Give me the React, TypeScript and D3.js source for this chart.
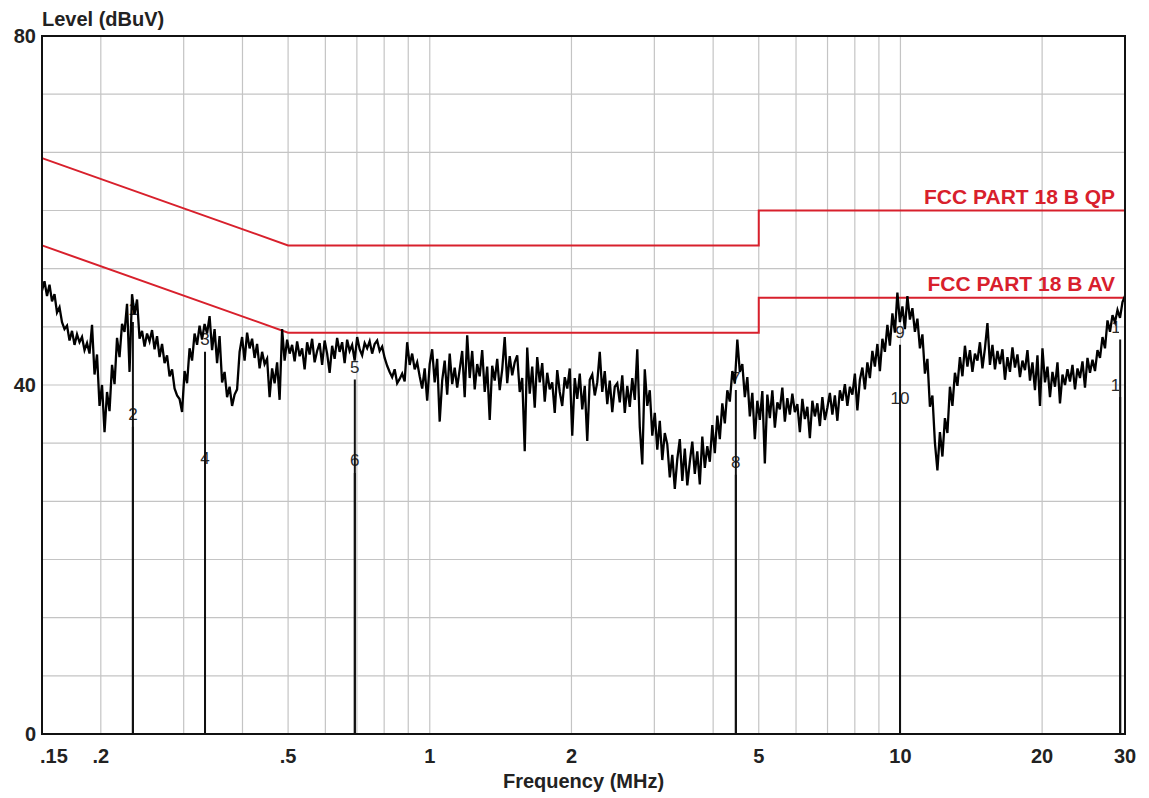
import * as d3 from "d3";

const W = 1149;
const H = 798;
const margin = { top: 36, right: 24, bottom: 64, left: 42 };

const fStart = 0.15;
const fStop = 30;

const freqTicks = [0.15, 0.2, 0.5, 1, 2, 5, 10, 20, 30];
const freqTickLabels = [".15", ".2", ".5", "1", "2", "5", "10", "20", "30"];
const freqGrid = [0.2, 0.3, 0.4, 0.5, 0.6, 0.7, 0.8, 0.9, 1, 2, 3, 4, 5, 6, 7, 8, 9, 10, 20];
const levelTicks = [0, 40, 80];
const levelDivisions = 12;

const limitFreqs = [0.15, 0.5, 5, 5, 30];
const qpLimit = [66, 56, 56, 60, 60];
const avLimit = [56, 46, 46, 50, 50];
const limitNames = ["FCC PART 18 B QP", "FCC PART 18 B AV"];

const markerLabels = ["1", "2", "3", "4", "5", "6", "7", "8", "9", "10", "11", "12"];
const markerFreqs = [0.234, 0.234, 0.333, 0.333, 0.693, 0.693, 4.47, 4.47, 9.98, 9.98, 29.3, 29.3];
const markerLevels = [48.6, 36.6, 45.2, 31.6, 42.0, 31.3, 40.8, 31.1, 46.0, 38.5, 46.6, 40.0];

// measured level, sweep points log-spaced from 0.15 to 30 MHz
const traceLevels = [
  50.8, 51.9, 50.2, 51.5, 49.6, 50.4, 48.3, 48.9, 47.2, 46.4,
  46.8, 45.1, 46.2, 44.6, 45.8, 44.9, 45.5, 44.0, 44.8, 43.6,
  46.9, 41.2, 43.5, 37.6, 40.0, 34.6, 39.2, 37.0, 42.3, 40.1,
  45.4, 43.2, 47.0, 46.1, 49.3, 41.5, 50.4, 48.1, 49.8, 45.3,
  46.2, 44.4, 45.9, 45.0, 46.3, 44.1, 45.6, 43.2, 44.7, 42.5,
  43.4, 41.0, 41.8, 39.6, 38.8, 38.4, 36.9, 41.6, 40.2, 44.2,
  42.8, 45.9, 44.6, 46.8, 45.2, 47.0, 45.9, 47.9, 44.0, 46.4,
  42.5, 45.6, 40.3, 41.5, 38.6, 39.8, 37.6, 38.9, 39.5, 43.8,
  45.5, 42.8, 46.0, 44.2, 45.3, 43.1, 44.7, 41.9, 43.8, 42.4,
  43.0, 38.6, 41.9, 40.2, 42.6, 38.3, 46.4, 42.8, 45.2, 43.6,
  44.6, 42.7, 45.0, 43.3, 44.2, 41.8, 44.9, 43.5, 45.3, 42.6,
  43.9, 44.8, 42.3, 45.1, 43.6, 41.4, 44.5, 43.0, 45.4, 43.8,
  44.9, 42.5, 45.2, 43.9, 44.6, 42.8, 45.5, 44.1, 43.4, 44.8,
  44.2, 45.0, 43.6, 44.7, 45.1, 43.9, 44.4, 43.1, 42.2, 41.5,
  40.9, 41.8, 40.2, 40.7, 41.3, 40.4, 44.9, 42.3, 43.6, 41.8,
  42.6, 41.0, 39.6, 41.9, 38.2, 42.4, 44.1, 40.3, 43.0, 35.8,
  40.5, 42.8, 38.9, 43.6, 40.1, 42.0, 39.7, 41.8, 43.9, 38.6,
  45.7, 40.8, 43.9, 39.5, 42.4, 41.0, 44.0, 39.2, 42.1, 36.0,
  42.2, 40.5, 43.0, 39.4, 41.8, 45.5, 40.2, 43.3, 41.1, 42.6,
  43.4, 39.2, 40.8, 32.4, 44.3, 39.0, 42.1, 37.4, 43.2, 40.3,
  42.5, 38.1, 41.4, 39.5, 40.3, 36.8, 41.7, 39.2, 37.6, 40.9,
  39.6, 41.9, 34.2, 40.8, 38.4, 41.3, 37.2, 39.9, 33.6, 40.6,
  41.2, 38.8, 40.3, 43.8, 39.2, 41.6, 37.8, 40.5, 36.9, 39.8,
  40.2, 38.0, 41.1, 36.8, 39.9, 37.5, 40.8, 38.3, 44.1, 35.2,
  30.9, 41.8, 37.6, 39.4, 34.2, 36.8, 32.6, 35.9, 31.4, 34.5,
  33.2, 29.4, 32.0, 28.1, 31.5, 33.8, 29.0, 32.7, 28.5, 31.2,
  33.5, 29.8, 32.4, 28.6, 34.1, 30.5, 33.0, 31.2, 35.4, 32.2,
  36.5, 33.8, 37.9, 35.6, 39.4, 38.1, 41.6, 40.2, 45.2, 41.5,
  42.4, 38.6, 40.9, 36.4, 39.1, 33.8, 38.2, 36.0, 39.3, 31.0,
  38.9, 36.2, 39.4, 35.1, 38.0, 37.2, 39.7, 35.8, 38.5, 36.6,
  39.0, 36.9, 37.8, 34.6, 38.4, 36.1, 37.5, 33.9, 38.2, 36.4,
  37.9, 35.3, 38.6, 36.0, 37.4, 39.1, 36.6, 38.8, 35.9, 39.4,
  38.2, 40.1, 37.6, 39.8, 38.9, 41.3, 37.1, 40.6, 42.0, 39.5,
  42.6, 40.8, 43.9, 42.1, 44.7, 41.6, 45.3, 43.8, 46.9, 44.5,
  48.2, 46.0, 50.6, 47.2, 49.0, 46.4, 50.2, 47.5, 48.8, 46.1,
  47.6, 44.2, 45.8, 41.3, 43.0, 37.5, 38.8, 33.4, 30.2, 34.6,
  31.8, 36.2, 34.5, 39.8, 37.6, 41.4, 39.9, 43.2, 41.0, 44.5,
  42.1, 44.0, 41.5, 43.6, 42.8, 44.9, 41.9, 44.2, 47.1, 42.3,
  44.6, 41.8, 43.9, 42.4, 44.1, 40.6, 43.2, 41.5, 44.3, 42.0,
  43.5, 40.9, 42.8, 41.7, 44.0, 40.5, 42.6, 39.4, 43.4, 37.6,
  44.2, 40.3, 42.1, 38.6, 41.5, 39.8, 42.6, 37.9, 41.2, 40.0,
  41.8, 40.4, 42.3, 39.5, 41.9, 40.8, 42.7, 39.7, 43.1, 41.4,
  42.9, 41.6, 44.0, 43.1, 45.5, 44.2, 47.4, 46.1, 48.0, 47.2,
  48.6, 47.7, 49.5, 50.2,
];

const FONT = "'Liberation Sans', Arial, sans-serif";
const RED = "#d8202c";

export default function App() {
  const x0 = margin.left;
  const x1 = W - margin.right;
  const y0 = margin.top;
  const y1 = H - margin.bottom;

  const x = d3.scaleLog().domain([fStart, fStop]).range([x0, x1]);
  const y = d3.scaleLinear().domain([0, 80]).range([y1, y0]);

  const n = traceLevels.length;
  const sweep = traceLevels.map((v, i) => ({
    f: fStart * Math.pow(fStop / fStart, i / (n - 1)),
    v,
  }));

  const line = d3
    .line<{ f: number; v: number }>()
    .x((d) => x(d.f))
    .y((d) => y(d.v));

  const limitLine = (levels: number[]) =>
    d3
      .line<number>()
      .x((_, i) => x(limitFreqs[i]))
      .y((d) => y(d))(levels) ?? "";

  const hGrid = d3.range(1, levelDivisions).map((i) => (80 * i) / levelDivisions);

  return (
    <svg
      width={W}
      height={H}
      style={{ position: "absolute", left: 0, top: 0, background: "#fff" }}
      fontFamily={FONT}
    >
      <defs>
        <clipPath id="plot">
          <rect x={x0} y={y0} width={x1 - x0} height={y1 - y0} />
        </clipPath>
        <clipPath id="labels">
          <rect x={x0} y={y0} width={x1 - x0 - 6} height={y1 - y0} />
        </clipPath>
      </defs>
      <rect width={W} height={H} fill="#fff" />

      {/* grid */}
      <g stroke="#c4c4c4" strokeWidth={1.2}>
        {freqGrid.map((f) => (
          <line key={f} x1={x(f)} x2={x(f)} y1={y0} y2={y1} />
        ))}
        {hGrid.map((v) => (
          <line key={v} x1={x0} x2={x1} y1={y(v)} y2={y(v)} />
        ))}
      </g>

      {/* limits */}
      <g fill="none" stroke={RED} strokeWidth={2}>
        <path d={limitLine(qpLimit)} />
        <path d={limitLine(avLimit)} />
      </g>
      <g fill={RED} fontWeight="bold" fontSize={21} textAnchor="end">
        <text x={x(fStop) - 10} y={y(qpLimit[4]) - 7}>
          {limitNames[0]}
        </text>
        <text x={x(fStop) - 10} y={y(avLimit[4]) - 7}>
          {limitNames[1]}
        </text>
      </g>

      {/* markers */}
      <g clipPath="url(#labels)">
        {markerFreqs.map((f, i) => (
          <text
            key={i}
            x={x(f)}
            y={y(markerLevels[i])}
            textAnchor="middle"
            dominantBaseline="central"
            fontSize={17}
            fill="#2a2a2a"
          >
            {markerLabels[i]}
          </text>
        ))}
      </g>
      <g clipPath="url(#plot)" stroke="#111" strokeWidth={2}>
        {markerFreqs.map((f, i) => (
          <line key={i} x1={x(f)} x2={x(f)} y1={y(markerLevels[i]) + 12} y2={y1} />
        ))}
      </g>

      {/* trace */}
      <path
        d={line(sweep) ?? ""}
        fill="none"
        stroke="#000"
        strokeWidth={2.3}
        clipPath="url(#plot)"
      />

      {/* frame */}
      <rect x={x0} y={y0} width={x1 - x0} height={y1 - y0} fill="none" stroke="#111" strokeWidth={2} />

      {/* axis labels */}
      <g fontWeight="bold" fontSize={20} fill="#222">
        {levelTicks.map((v) => (
          <text key={v} x={x0 - 6} y={y(v)} textAnchor="end" dominantBaseline="central">
            {v}
          </text>
        ))}
        {freqTicks.map((f, i) => (
          <text
            key={f}
            x={i === 0 ? x(f) - 2 : x(f)}
            y={y1 + 22}
            textAnchor={i === 0 ? "start" : "middle"}
            dominantBaseline="central"
          >
            {freqTickLabels[i]}
          </text>
        ))}
        <text x={x0} y={26}>
          Level (dBuV)
        </text>
        <text x={(x0 + x1) / 2} y={788} textAnchor="middle">
          Frequency (MHz)
        </text>
      </g>
    </svg>
  );
}
